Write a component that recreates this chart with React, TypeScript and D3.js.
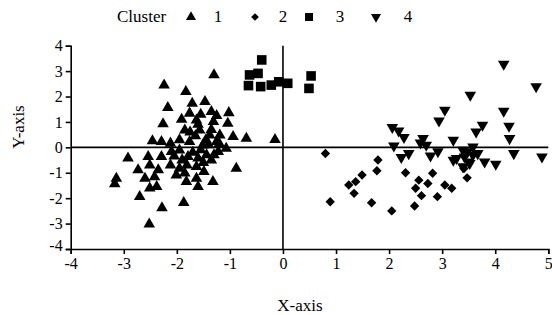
import React, { useRef, useEffect } from 'react';
import * as d3 from 'd3';

// cluster 1 (triangles)
const cluster1: [number, number][] = [
  [-1.30, 2.85], [-2.24, 2.45], [-1.83, 2.19], [-2.17, 1.56], [-1.71, 1.73], [-1.47, 1.80],
  [-1.76, 1.34], [-1.35, 1.40], [-1.02, 1.36], [-2.26, 0.92], [-1.91, 1.10], [-1.63, 1.07],
  [-1.31, 1.01], [-1.04, 0.94], [-1.85, 0.68], [-1.57, 0.68], [-1.38, 0.48], [-1.19, 0.48],
  [-0.94, 0.42], [-0.69, 0.35], [-2.46, 0.25], [-2.29, 0.22], [-2.12, 0.16], [-1.95, 0.29],
  [-1.76, 0.22], [-1.51, 0.09], [-1.25, 0.22], [-1.07, -0.04], [-2.92, -0.43], [-2.54, -0.37],
  [-2.29, -0.37], [-2.10, -0.17], [-1.95, -0.11], [-1.79, -0.37], [-1.60, -0.43], [-1.44, -0.30],
  [-1.22, -0.17], [-0.88, -0.83], [-2.73, -0.89], [-2.51, -0.70], [-2.35, -0.89], [-2.12, -0.70],
  [-1.95, -0.83], [-1.81, -0.70], [-1.63, -0.76], [-1.49, -0.96], [-1.35, -0.50], [-2.60, -1.22],
  [-2.42, -1.16], [-2.01, -1.09], [-1.85, -1.02], [-1.63, -1.22], [-1.32, -1.35], [-3.14, -1.22],
  [-3.17, -1.44], [-2.51, -1.61], [-2.38, -1.55], [-1.82, -1.35], [-1.60, -1.55], [-2.70, -1.94],
  [-1.87, -2.18], [-2.28, -2.38], [-2.52, -3.02], [-1.65, 0.45], [-1.45, 0.30], [-1.55, -0.10],
  [-1.70, -0.20], [-1.40, 0.10], [-1.30, -0.30], [-1.50, -0.60], [-1.75, 0.60], [-1.60, 0.90],
  [-1.90, -0.50], [-2.05, -0.35], [-1.35, 0.70], [-1.20, 0.15], [-1.55, 1.30], [-1.25, 1.25],
  [-0.15, 0.30],
];

// cluster 2 (diamonds)
const cluster2: [number, number][] = [
  [0.80, -0.24], [0.89, -2.14], [1.24, -1.48], [1.37, -1.35], [1.34, -1.81], [1.49, -1.09],
  [1.67, -2.18], [1.79, -0.50], [1.77, -0.92], [2.05, -2.50], [2.31, -1.00], [2.56, -1.29],
  [2.50, -1.61], [2.61, -1.90], [2.48, -2.31], [2.73, -1.42], [2.82, -1.02], [2.91, -1.94],
  [3.05, -1.48], [3.18, -1.61], [3.41, -0.83], [3.47, -1.20],
];

// cluster 3 (squares)
const cluster3: [number, number][] = [
  [-0.40, 3.44], [-0.63, 2.85], [-0.47, 2.91], [-0.65, 2.43], [-0.42, 2.39], [-0.22, 2.45],
  [-0.08, 2.58], [0.09, 2.52], [0.53, 2.81], [0.49, 2.32],
];

// cluster 4 (down triangles)
const cluster4: [number, number][] = [
  [4.16, 3.28], [4.77, 2.39], [3.53, 2.06], [3.05, 1.47], [2.94, 1.04], [4.16, 1.43],
  [3.76, 0.88], [4.26, 0.84], [3.64, 0.61], [2.06, 0.79], [2.18, 0.65], [2.28, 0.39],
  [2.64, 0.35], [2.59, 0.18], [2.70, 0.09], [3.21, 0.29], [4.27, 0.35], [2.09, 0.06],
  [2.23, -0.39], [2.37, -0.24], [2.78, -0.33], [2.92, -0.17], [3.21, -0.50], [3.27, -0.43],
  [3.39, -0.11], [3.48, -0.17], [3.58, 0.02], [3.67, -0.24], [3.80, -0.57], [4.01, -0.66],
  [4.35, -0.24], [4.88, -0.37], [3.50, -0.57], [3.42, -0.37], [3.58, -0.30], [3.39, -0.76],
  [3.52, -0.63],
];

const xTicks = [-4, -3, -2, -1, 0, 1, 2, 3, 4, 5];
const yTicks = [-4, -3, -2, -1, 0, 1, 2, 3, 4];
const clusterLabels = ['1', '2', '3', '4'];

const FONT = '"Liberation Serif", "Times New Roman", serif';

const App = () => {
  const ref = useRef<SVGSVGElement>(null);

  useEffect(() => {
    const svg = d3.select(ref.current);
    svg.selectAll('*').remove();

    const x = d3.scaleLinear().domain([-4, 5]).range([70.7, 548.3]);
    const y = d3.scaleLinear().domain([-4, 4]).range([249, 45.7]);

    const shapes = [
      { data: cluster1, type: d3.symbolTriangle, size: 58, rot: 0 },
      { data: cluster2, type: d3.symbolSquare, size: 44, rot: 45 },
      { data: cluster3, type: d3.symbolSquare, size: 92, rot: 0 },
      { data: cluster4, type: d3.symbolTriangle, size: 58, rot: 180 },
    ];

    // axes
    const fmt = (d: any) => String(d);
    const xAxis = svg.append('g')
      .attr('transform', `translate(0,${y(-4)})`)
      .call(d3.axisBottom(x).tickValues(xTicks).tickSize(5).tickPadding(4).tickFormat(fmt));
    const yAxis = svg.append('g')
      .attr('transform', `translate(${x(-4)},0)`)
      .call(d3.axisLeft(y).tickValues(yTicks).tickSize(5).tickPadding(3).tickFormat(fmt));

    [xAxis, yAxis].forEach(a => {
      a.attr('font-family', null).attr('font-size', null);
      a.select('.domain').attr('stroke', '#000').attr('stroke-width', 1.6);
      a.selectAll('.tick line').attr('stroke', '#000').attr('stroke-width', 1.6);
      a.selectAll('.tick text')
        .style('font-family', FONT)
        .style('font-size', '16px')
        .attr('fill', '#000');
    });
    yAxis.selectAll('.tick text').filter((d: any) => d === -4).attr('dy', '0.1em');

    // zero lines
    svg.append('line')
      .attr('x1', x(-4)).attr('x2', x(5))
      .attr('y1', y(0)).attr('y2', y(0))
      .attr('stroke', '#000').attr('stroke-width', 1.6);
    svg.append('line')
      .attr('x1', x(0)).attr('x2', x(0))
      .attr('y1', y(-4)).attr('y2', y(4))
      .attr('stroke', '#000').attr('stroke-width', 1.6);

    // points
    shapes.forEach(s => {
      svg.append('g')
        .selectAll('path')
        .data(s.data)
        .join('path')
        .attr('d', d3.symbol().type(s.type).size(s.size)())
        .attr('transform', d => `translate(${x(d[0])},${y(d[1])}) rotate(${s.rot})`)
        .attr('fill', '#000');
    });

    // axis titles
    svg.append('text')
      .attr('x', 300).attr('y', 311)
      .attr('text-anchor', 'middle')
      .style('font-family', FONT).style('font-size', '17px')
      .text('X-axis');
    svg.append('text')
      .attr('transform', 'translate(24,127) rotate(-90)')
      .attr('text-anchor', 'middle')
      .style('font-family', FONT).style('font-size', '17px')
      .text('Y-axis');

    // legend
    const legend = svg.append('g').style('font-family', FONT).style('font-size', '17px');
    legend.append('text').attr('x', 117).attr('y', 22).text('Cluster');
    const legendX = [191, 255, 309, 376];
    const labelX = [218, 283, 340, 408];
    const legendSizes = [44, 30, 64, 44];
    shapes.forEach((s, i) => {
      legend.append('path')
        .attr('d', d3.symbol().type(s.type).size(legendSizes[i])())
        .attr('transform', `translate(${legendX[i]},${17}) rotate(${s.rot})`)
        .attr('fill', '#000');
      legend.append('text')
        .attr('x', labelX[i]).attr('y', 22)
        .attr('text-anchor', 'middle')
        .text(clusterLabels[i]);
    });
  }, []);

  return (
    <svg
      ref={ref}
      width={552}
      height={315}
      style={{ position: 'absolute', left: 0, top: 0, background: '#fff' }}
    />
  );
};

export default App;
